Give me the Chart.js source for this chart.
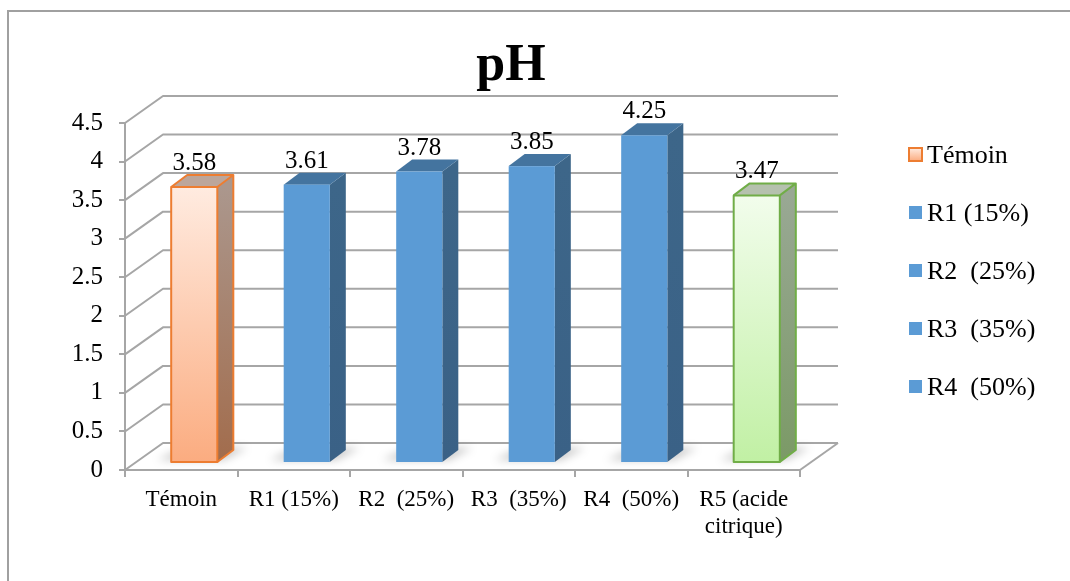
<!DOCTYPE html>
<html>
<head>
<meta charset="utf-8">
<title>pH</title>
<script src="https://cdn.jsdelivr.net/npm/chart.js@4/dist/chart.umd.min.js"></script>
<style>
  html, body { margin: 0; padding: 0; background: #fff; }
  #wrap { width: 1070px; height: 581px; position: relative; }
</style>
</head>
<body>
<div id="wrap"><canvas id="c" width="1070" height="581"></canvas></div>
<script>
// Samples and their measured pH
const categories = ['Témoin', 'R1 (15%)', 'R2  (25%)', 'R3  (35%)', 'R4  (50%)', ['R5 (acide', 'citrique)']];
const phValues = [3.58, 3.61, 3.78, 3.85, 4.25, 3.47];
const legendLabels = ['Témoin', 'R1 (15%)', 'R2  (25%)', 'R3  (35%)', 'R4  (50%)'];
const yMin = 0, yMax = 4.5, yStep = 0.5;
const chartTitle = 'pH';

// Appearance
const SERIF = '"Liberation Serif", "Times New Roman", serif';
const GRID = '#a6a6a6';
const WALL_DEPTH = { x: 38, y: -27 };   // receding direction of walls and floor
const BAR_SHIFT = { x: 13, y: -7 };     // bars stand half-way into the floor
const BAR_DEPTH = { x: 16, y: -12 };    // thickness of each column
const styles = {
  orange: { front: ['#ffebe0', '#fbac80'], side: ['#ab978d', '#a26c4c'], top: '#bca69b', edge: '#ed7d31' },
  blue:   { front: ['#5b9bd5', '#5b9bd5'], side: ['#3d6689', '#3a6186'], top: '#44749f', edge: null },
  green:  { front: ['#f2fdec', '#c1f0a4'], side: ['#99a894', '#7b9a66'], top: '#b5c1ae', edge: '#70ad47' }
};
const barStyle = i => i === 0 ? styles.orange : (i === categories.length - 1 ? styles.green : styles.blue);

function poly(ctx, pts) {
  ctx.beginPath();
  ctx.moveTo(pts[0][0], pts[0][1]);
  for (let k = 1; k < pts.length; k++) ctx.lineTo(pts[k][0], pts[k][1]);
  ctx.closePath();
}

const frame = {
  id: 'frame',
  beforeDraw(chart) {
    const ctx = chart.ctx;
    ctx.save();
    ctx.fillStyle = '#fff';
    ctx.fillRect(0, 0, chart.width, chart.height);
    ctx.strokeStyle = '#a0a0a0';
    ctx.lineWidth = 2;
    ctx.beginPath();
    ctx.moveTo(8, chart.height);
    ctx.lineTo(8, 11);
    ctx.lineTo(chart.width, 11);
    ctx.stroke();
    ctx.restore();
  }
};

const walls = {
  id: 'walls',
  beforeDatasetsDraw(chart) {
    const { ctx, chartArea: a, scales: { y } } = chart;
    ctx.save();
    ctx.strokeStyle = GRID;
    ctx.lineWidth = 2;
    ctx.lineJoin = 'round';
    // right edge of the floor
    ctx.beginPath();
    ctx.moveTo(a.right, a.bottom);
    ctx.lineTo(a.right + WALL_DEPTH.x, a.bottom + WALL_DEPTH.y);
    ctx.stroke();
    // side wall and back wall gridlines
    y.ticks.forEach(t => {
      const py = y.getPixelForValue(t.value);
      ctx.beginPath();
      ctx.moveTo(a.left, py);
      ctx.lineTo(a.left + WALL_DEPTH.x, py + WALL_DEPTH.y);
      ctx.lineTo(a.right + WALL_DEPTH.x, py + WALL_DEPTH.y);
      ctx.stroke();
    });
    ctx.restore();
  },
  afterDatasetsDraw(chart) {
    const { ctx } = chart;
    const meta = chart.getDatasetMeta(0);
    ctx.save();
    // soft shadows on the floor
    meta.data.forEach(el => {
      const p = el.getProps(['x', 'base', 'width'], true);
      const L = p.x - p.width / 2 + BAR_SHIFT.x, R = p.x + p.width / 2 + BAR_SHIFT.x;
      const B = p.base + BAR_SHIFT.y;
      ctx.save();
      ctx.filter = 'blur(4px)';
      ctx.fillStyle = 'rgba(0,0,0,0.22)';
      poly(ctx, [[L - 14, B - 2], [R + 6, B - 2], [R + BAR_DEPTH.x + 14, B + BAR_DEPTH.y - 2], [L + BAR_DEPTH.x - 4, B + BAR_DEPTH.y - 2]]);
      ctx.fill();
      ctx.restore();
    });
    // columns
    meta.data.forEach((el, i) => {
      const p = el.getProps(['x', 'y', 'base', 'width'], true);
      const s = barStyle(i);
      const L = p.x - p.width / 2 + BAR_SHIFT.x, R = p.x + p.width / 2 + BAR_SHIFT.x;
      const T = p.y + BAR_SHIFT.y, B = p.base + BAR_SHIFT.y;
      const dx = BAR_DEPTH.x, dy = BAR_DEPTH.y;
      // side face
      let g = ctx.createLinearGradient(0, T, 0, B);
      g.addColorStop(0, s.side[0]); g.addColorStop(1, s.side[1]);
      ctx.fillStyle = g;
      poly(ctx, [[R, T], [R + dx, T + dy], [R + dx, B + dy], [R, B]]);
      ctx.fill();
      // top face
      ctx.fillStyle = s.top;
      poly(ctx, [[L, T], [R, T], [R + dx, T + dy], [L + dx, T + dy]]);
      ctx.fill();
      // front face
      g = ctx.createLinearGradient(0, T, 0, B);
      g.addColorStop(0, s.front[0]); g.addColorStop(1, s.front[1]);
      ctx.fillStyle = g;
      ctx.fillRect(L, T, R - L, B - T);
      if (s.edge) {
        ctx.strokeStyle = s.edge;
        ctx.lineWidth = 2;
        ctx.lineJoin = 'round';
        ctx.strokeRect(L, T, R - L, B - T);
        ctx.beginPath();
        ctx.moveTo(L, T); ctx.lineTo(L + dx, T + dy); ctx.lineTo(R + dx, T + dy);
        ctx.lineTo(R + dx, B + dy); ctx.lineTo(R, B);
        ctx.moveTo(R, T); ctx.lineTo(R + dx, T + dy);
        ctx.stroke();
      }
      // value label
      ctx.fillStyle = '#000';
      ctx.font = '25px ' + SERIF;
      ctx.textAlign = 'center';
      ctx.textBaseline = 'alphabetic';
      ctx.fillText(phValues[i].toFixed(2), (L + R) / 2, T - 17);
    });
    ctx.restore();
  },
  afterDraw(chart) {
    const ctx = chart.ctx;
    ctx.save();
    // title
    ctx.fillStyle = '#000';
    ctx.font = 'bold 52px ' + SERIF;
    ctx.textAlign = 'center';
    ctx.textBaseline = 'alphabetic';
    ctx.fillText(chartTitle, 511, 80);
    // legend
    ctx.font = '26px ' + SERIF;
    ctx.textAlign = 'left';
    ctx.textBaseline = 'middle';
    legendLabels.forEach((lab, i) => {
      const cy = 155 + i * 58;
      const s = barStyle(i);
      const bx = 909, by = cy - 7, bw = 13;
      const g = ctx.createLinearGradient(0, by, 0, by + bw);
      g.addColorStop(0, s.front[0]); g.addColorStop(1, s.front[1]);
      ctx.fillStyle = g;
      ctx.fillRect(bx, by, bw, bw);
      if (s.edge) {
        ctx.strokeStyle = s.edge;
        ctx.lineWidth = 2;
        ctx.strokeRect(bx, by, bw, bw);
      }
      ctx.fillStyle = '#000';
      ctx.fillText(lab, 927, cy + 1);
    });
    ctx.restore();
  }
};

new Chart(document.getElementById('c'), {
  type: 'bar',
  data: {
    labels: categories,
    datasets: [{
      label: chartTitle,
      data: phValues,
      backgroundColor: 'rgba(0,0,0,0)',
      borderWidth: 0,
      categoryPercentage: 1,
      barPercentage: 0.41
    }]
  },
  options: {
    responsive: false,
    devicePixelRatio: 1,
    animation: false,
    events: [],
    layout: { padding: { left: 0, top: 123, right: 270, bottom: 0 } },
    plugins: { legend: { display: false }, title: { display: false }, tooltip: { enabled: false } },
    scales: {
      x: {
        offset: true,
        grid: { offset: true, drawOnChartArea: false, drawTicks: true, tickLength: 7, color: GRID, lineWidth: 2 },
        border: { display: true, color: GRID, width: 2 },
        ticks: { color: '#000', font: { family: SERIF, size: 23 }, padding: 9, maxRotation: 0, autoSkip: false },
        afterFit(scale) { scale.height = 111; }
      },
      y: {
        min: yMin, max: yMax,
        grid: { drawOnChartArea: false, drawTicks: true, tickLength: 6, color: GRID, lineWidth: 2 },
        border: { display: true, color: GRID, width: 2 },
        ticks: { stepSize: yStep, color: '#000', font: { family: SERIF, size: 25 }, padding: 16,
                 callback: v => String(Number(v.toFixed(1))) },
        afterFit(scale) { scale.width = 125; }
      }
    }
  },
  plugins: [frame, walls]
});
</script>
</body>
</html>
